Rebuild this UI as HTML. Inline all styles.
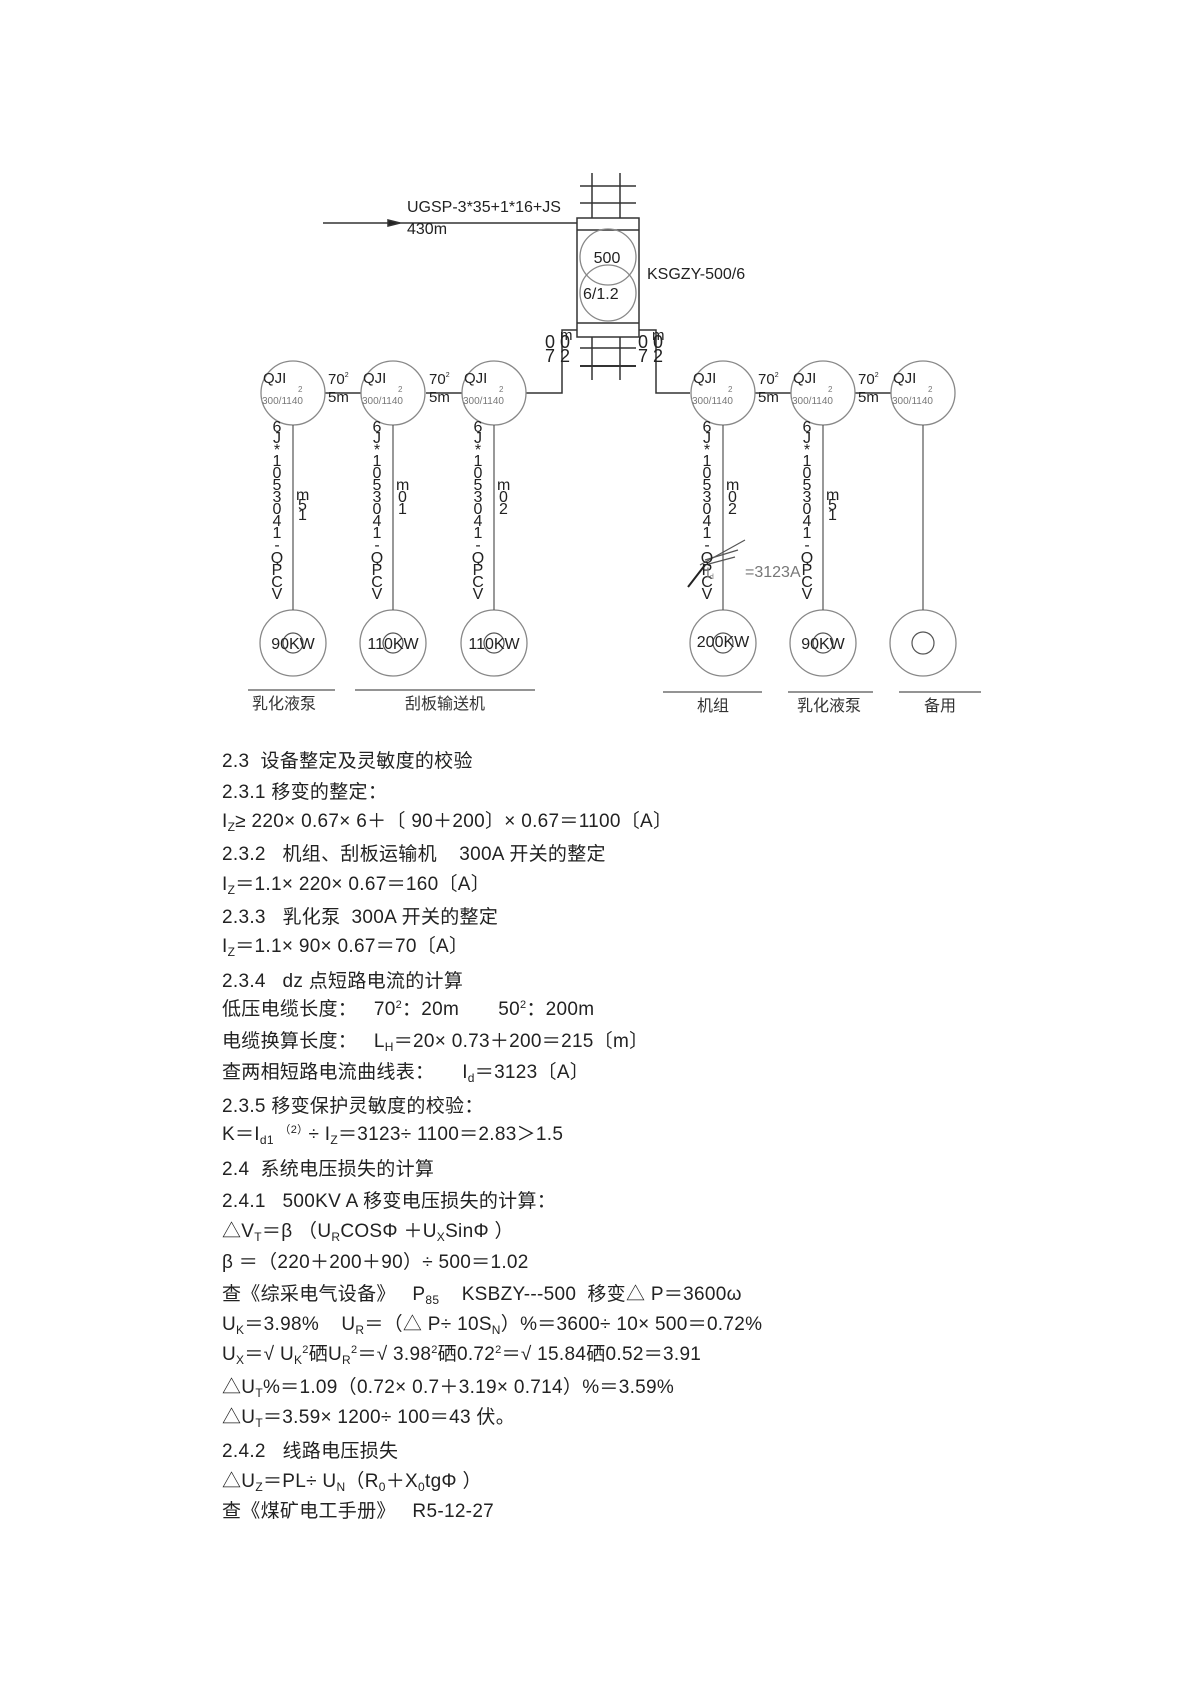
<!DOCTYPE html>
<html><head><meta charset="utf-8">
<style>
html,body{margin:0;padding:0;background:#fff;}
body{width:1195px;height:1692px;position:relative;overflow:hidden;font-family:"Liberation Sans","Noto Sans CJK SC",sans-serif;color:#222;}
.t{position:absolute;left:222px;font-size:19px;line-height:22px;white-space:pre;letter-spacing:0.3px;}
sub{font-size:12px;vertical-align:-4px;line-height:0}
sup{font-size:11px;vertical-align:7px;line-height:0}
svg{position:absolute;left:0;top:0}
</style></head><body>
<svg width="1195" height="1692" xmlns="http://www.w3.org/2000/svg" font-family="Liberation Sans, Noto Sans CJK SC, sans-serif">
<g stroke="#333" stroke-width="1.5" fill="none">
<line x1="323" y1="223" x2="577" y2="223"/>
<polygon points="388,220 400,223 388,226" fill="#222"/>
<line x1="592" y1="173" x2="592" y2="218"/><line x1="620" y1="173" x2="620" y2="218"/>
<line x1="580" y1="186" x2="636" y2="186"/><line x1="580" y1="203" x2="636" y2="203"/>
<rect x="577" y="218" width="62" height="119"/>
<line x1="577" y1="230" x2="639" y2="230"/><line x1="577" y1="323" x2="639" y2="323"/>
<line x1="592" y1="337" x2="592" y2="380"/><line x1="620" y1="337" x2="620" y2="380"/>
<line x1="580" y1="348" x2="636" y2="348"/><line x1="580" y1="366" x2="636" y2="366" stroke-width="2"/>
<polyline points="577,330 562,330 562,393 526,393"/>
<polyline points="639,330 656,330 656,393 690,393"/>
<line x1="325" y1="393" x2="361" y2="393"/><line x1="426" y1="393" x2="462" y2="393"/>
<line x1="755" y1="393" x2="791" y2="393"/><line x1="855" y1="393" x2="891" y2="393"/>
</g>
<g stroke="#888" stroke-width="1.3" fill="none">
<circle cx="608" cy="257" r="28"/><circle cx="608" cy="293" r="28"/>
<circle cx="293" cy="393" r="32"/><circle cx="393" cy="393" r="32"/><circle cx="494" cy="393" r="32"/>
<circle cx="723" cy="393" r="32"/><circle cx="823" cy="393" r="32"/><circle cx="923" cy="393" r="32"/>
<circle cx="293" cy="643" r="33"/><circle cx="393" cy="643" r="33"/><circle cx="494" cy="643" r="33"/>
<circle cx="723" cy="643" r="33"/><circle cx="823" cy="643" r="33"/><circle cx="923" cy="643" r="33"/>
</g>
<g stroke="#555" stroke-width="1.2" fill="none">
<circle cx="293" cy="643" r="10"/><circle cx="393" cy="643" r="10"/><circle cx="494" cy="643" r="10"/>
<circle cx="723" cy="643" r="10"/><circle cx="823" cy="643" r="10"/><circle cx="923" cy="643" r="11"/>
<line x1="293" y1="425" x2="293" y2="610"/><line x1="393" y1="425" x2="393" y2="610"/><line x1="494" y1="425" x2="494" y2="610"/>
<line x1="723" y1="425" x2="723" y2="610"/><line x1="823" y1="425" x2="823" y2="610"/><line x1="923" y1="425" x2="923" y2="610"/>
<line x1="248" y1="690" x2="335" y2="690"/><line x1="355" y1="690" x2="535" y2="690"/>
<line x1="663" y1="692" x2="762" y2="692"/><line x1="788" y1="692" x2="873" y2="692"/><line x1="899" y1="692" x2="981" y2="692"/>
<line x1="745" y1="540" x2="700" y2="565"/><line x1="738" y1="550" x2="705" y2="560"/><line x1="735" y1="557" x2="705" y2="565"/>
<line x1="705" y1="565" x2="688" y2="587" stroke="#222" stroke-width="2"/>
</g>
<g fill="#222" font-size="16">
<text x="407" y="212">UGSP-3*35+1*16+JS</text>
<text x="407" y="234">430m</text>
<text x="647" y="279">KSGZY-500/6</text>
<text x="607" y="263" text-anchor="middle">500</text>
<text x="583" y="299">6/1.2</text>
<text x="545" y="348" font-size="18">0 0</text><text x="545" y="362" font-size="18">7 2</text><text x="560" y="340" font-size="15">m</text>
<text x="638" y="348" font-size="18">0 0</text><text x="638" y="362" font-size="18">7 2</text><text x="652" y="340" font-size="15">m</text>
</g>
<g fill="#222" font-size="15">
<text x="328" y="384">70<tspan font-size="7" dy="-7">2</tspan></text><text x="328" y="402">5m</text>
<text x="429" y="384">70<tspan font-size="7" dy="-7">2</tspan></text><text x="429" y="402">5m</text>
<text x="758" y="384">70<tspan font-size="7" dy="-7">2</tspan></text><text x="758" y="402">5m</text>
<text x="858" y="384">70<tspan font-size="7" dy="-7">2</tspan></text><text x="858" y="402">5m</text>
</g>
<g font-size="15">
<g fill="#222"><text x="263" y="383">QJI</text><text x="363" y="383">QJI</text><text x="464" y="383">QJI</text><text x="693" y="383">QJI</text><text x="793" y="383">QJI</text><text x="893" y="383">QJI</text></g>
<g fill="#777" font-size="8"><text x="298" y="392">2</text><text x="398" y="392">2</text><text x="499" y="392">2</text><text x="728" y="392">2</text><text x="828" y="392">2</text><text x="928" y="392">2</text></g>
<g fill="#777" font-size="10"><text x="262" y="404">300/1140</text><text x="362" y="404">300/1140</text><text x="463" y="404">300/1140</text><text x="692" y="404">300/1140</text><text x="792" y="404">300/1140</text><text x="892" y="404">300/1140</text></g>
</g>
<g fill="#222" font-size="16" text-anchor="middle">
<text x="293" y="649">90KW</text><text x="393" y="649">110KW</text><text x="494" y="649">110KW</text>
<text x="723" y="647">200KW</text><text x="823" y="649">90KW</text>
</g>
<g fill="#333" font-size="16" text-anchor="middle">
<text x="284" y="709">乳化液泵</text><text x="445" y="709">刮板输送机</text>
<text x="713" y="711">机组</text><text x="829" y="711">乳化液泵</text><text x="940" y="711">备用</text>
</g>
<g fill="#222" font-size="16" text-anchor="middle" id="vt">
<text x="277" y="432">6</text><text x="277" y="443">J</text><text x="277" y="455">*</text><text x="277" y="466">1</text><text x="277" y="478">0</text><text x="277" y="490">5</text><text x="277" y="502">3</text><text x="277" y="514">0</text><text x="277" y="526">4</text><text x="277" y="538">1</text><text x="277" y="550">-</text><text x="277" y="563">Q</text><text x="277" y="575">P</text><text x="277" y="587">C</text><text x="277" y="599">V</text>
</g>
<use href="#vt" x="100"/><use href="#vt" x="201"/><use href="#vt" x="430"/><use href="#vt" x="530"/>
<g fill="#222" font-size="16">
<text x="296" y="500">m</text><text x="298" y="510">5</text><text x="298" y="520">1</text>
<text x="396" y="490">m</text><text x="398" y="502">0</text><text x="398" y="514">1</text>
<text x="497" y="490">m</text><text x="499" y="502">0</text><text x="499" y="514">2</text>
<text x="726" y="490">m</text><text x="728" y="502">0</text><text x="728" y="514">2</text>
<text x="826" y="500">m</text><text x="828" y="510">5</text><text x="828" y="520">1</text>
</g>
<text x="706" y="577" font-size="14" fill="#777">I<tspan font-size="7" dy="2">d</tspan></text>
<text x="745" y="577" font-size="16" fill="#777">=3123A</text>
</svg>
<div class="t" style="top:751px">2.3  设备整定及灵敏度的校验</div>
<div class="t" style="top:782px">2.3.1 移变的整定：</div>
<div class="t" style="top:811px">I<sub>Z</sub>≥ 220× 0.67× 6＋〔 90＋200〕× 0.67＝1100〔A〕</div>
<div class="t" style="top:844px">2.3.2   机组、刮板运输机    300A 开关的整定</div>
<div class="t" style="top:874px">I<sub>Z</sub>＝1.1× 220× 0.67＝160〔A〕</div>
<div class="t" style="top:907px">2.3.3   乳化泵  300A 开关的整定</div>
<div class="t" style="top:936px">I<sub>Z</sub>＝1.1× 90× 0.67＝70〔A〕</div>
<div class="t" style="top:971px">2.3.4   dz 点短路电流的计算</div>
<div class="t" style="top:999px">低压电缆长度：   70<sup>2</sup>：20m       50<sup>2</sup>：200m</div>
<div class="t" style="top:1031px">电缆换算长度：   L<sub>H</sub>＝20× 0.73＋200＝215〔m〕</div>
<div class="t" style="top:1062px">查两相短路电流曲线表：     I<sub>d</sub>＝3123〔A〕</div>
<div class="t" style="top:1096px">2.3.5 移变保护灵敏度的校验：</div>
<div class="t" style="top:1124px">K＝I<sub>d1</sub> <sup>（2）</sup>÷ I<sub>Z</sub>＝3123÷ 1100＝2.83＞1.5</div>
<div class="t" style="top:1159px">2.4  系统电压损失的计算</div>
<div class="t" style="top:1191px">2.4.1   500KV A 移变电压损失的计算：</div>
<div class="t" style="top:1221px">△V<sub>T</sub>＝β （U<sub>R</sub>COSΦ ＋U<sub>X</sub>SinΦ ）</div>
<div class="t" style="top:1252px">β ＝（220＋200＋90）÷ 500＝1.02</div>
<div class="t" style="top:1284px">查《综采电气设备》   P<sub>85</sub>    KSBZY---500  移变△ P＝3600ω</div>
<div class="t" style="top:1314px">U<sub>K</sub>＝3.98%    U<sub>R</sub>＝（△ P÷ 10S<sub>N</sub>）%＝3600÷ 10× 500＝0.72%</div>
<div class="t" style="top:1344px">U<sub>X</sub>＝√ U<sub>K</sub><sup>2</sup>硒U<sub>R</sub><sup>2</sup>＝√ 3.98<sup>2</sup>硒0.72<sup>2</sup>＝√ 15.84硒0.52＝3.91</div>
<div class="t" style="top:1377px">△U<sub>T</sub>%＝1.09（0.72× 0.7＋3.19× 0.714）%＝3.59%</div>
<div class="t" style="top:1407px">△U<sub>T</sub>＝3.59× 1200÷ 100＝43 伏。</div>
<div class="t" style="top:1441px">2.4.2   线路电压损失</div>
<div class="t" style="top:1471px">△U<sub>Z</sub>＝PL÷ U<sub>N</sub>（R<sub>0</sub>＋X<sub>0</sub>tgΦ ）</div>
<div class="t" style="top:1501px">查《煤矿电工手册》   R5-12-27</div>
</body></html>
